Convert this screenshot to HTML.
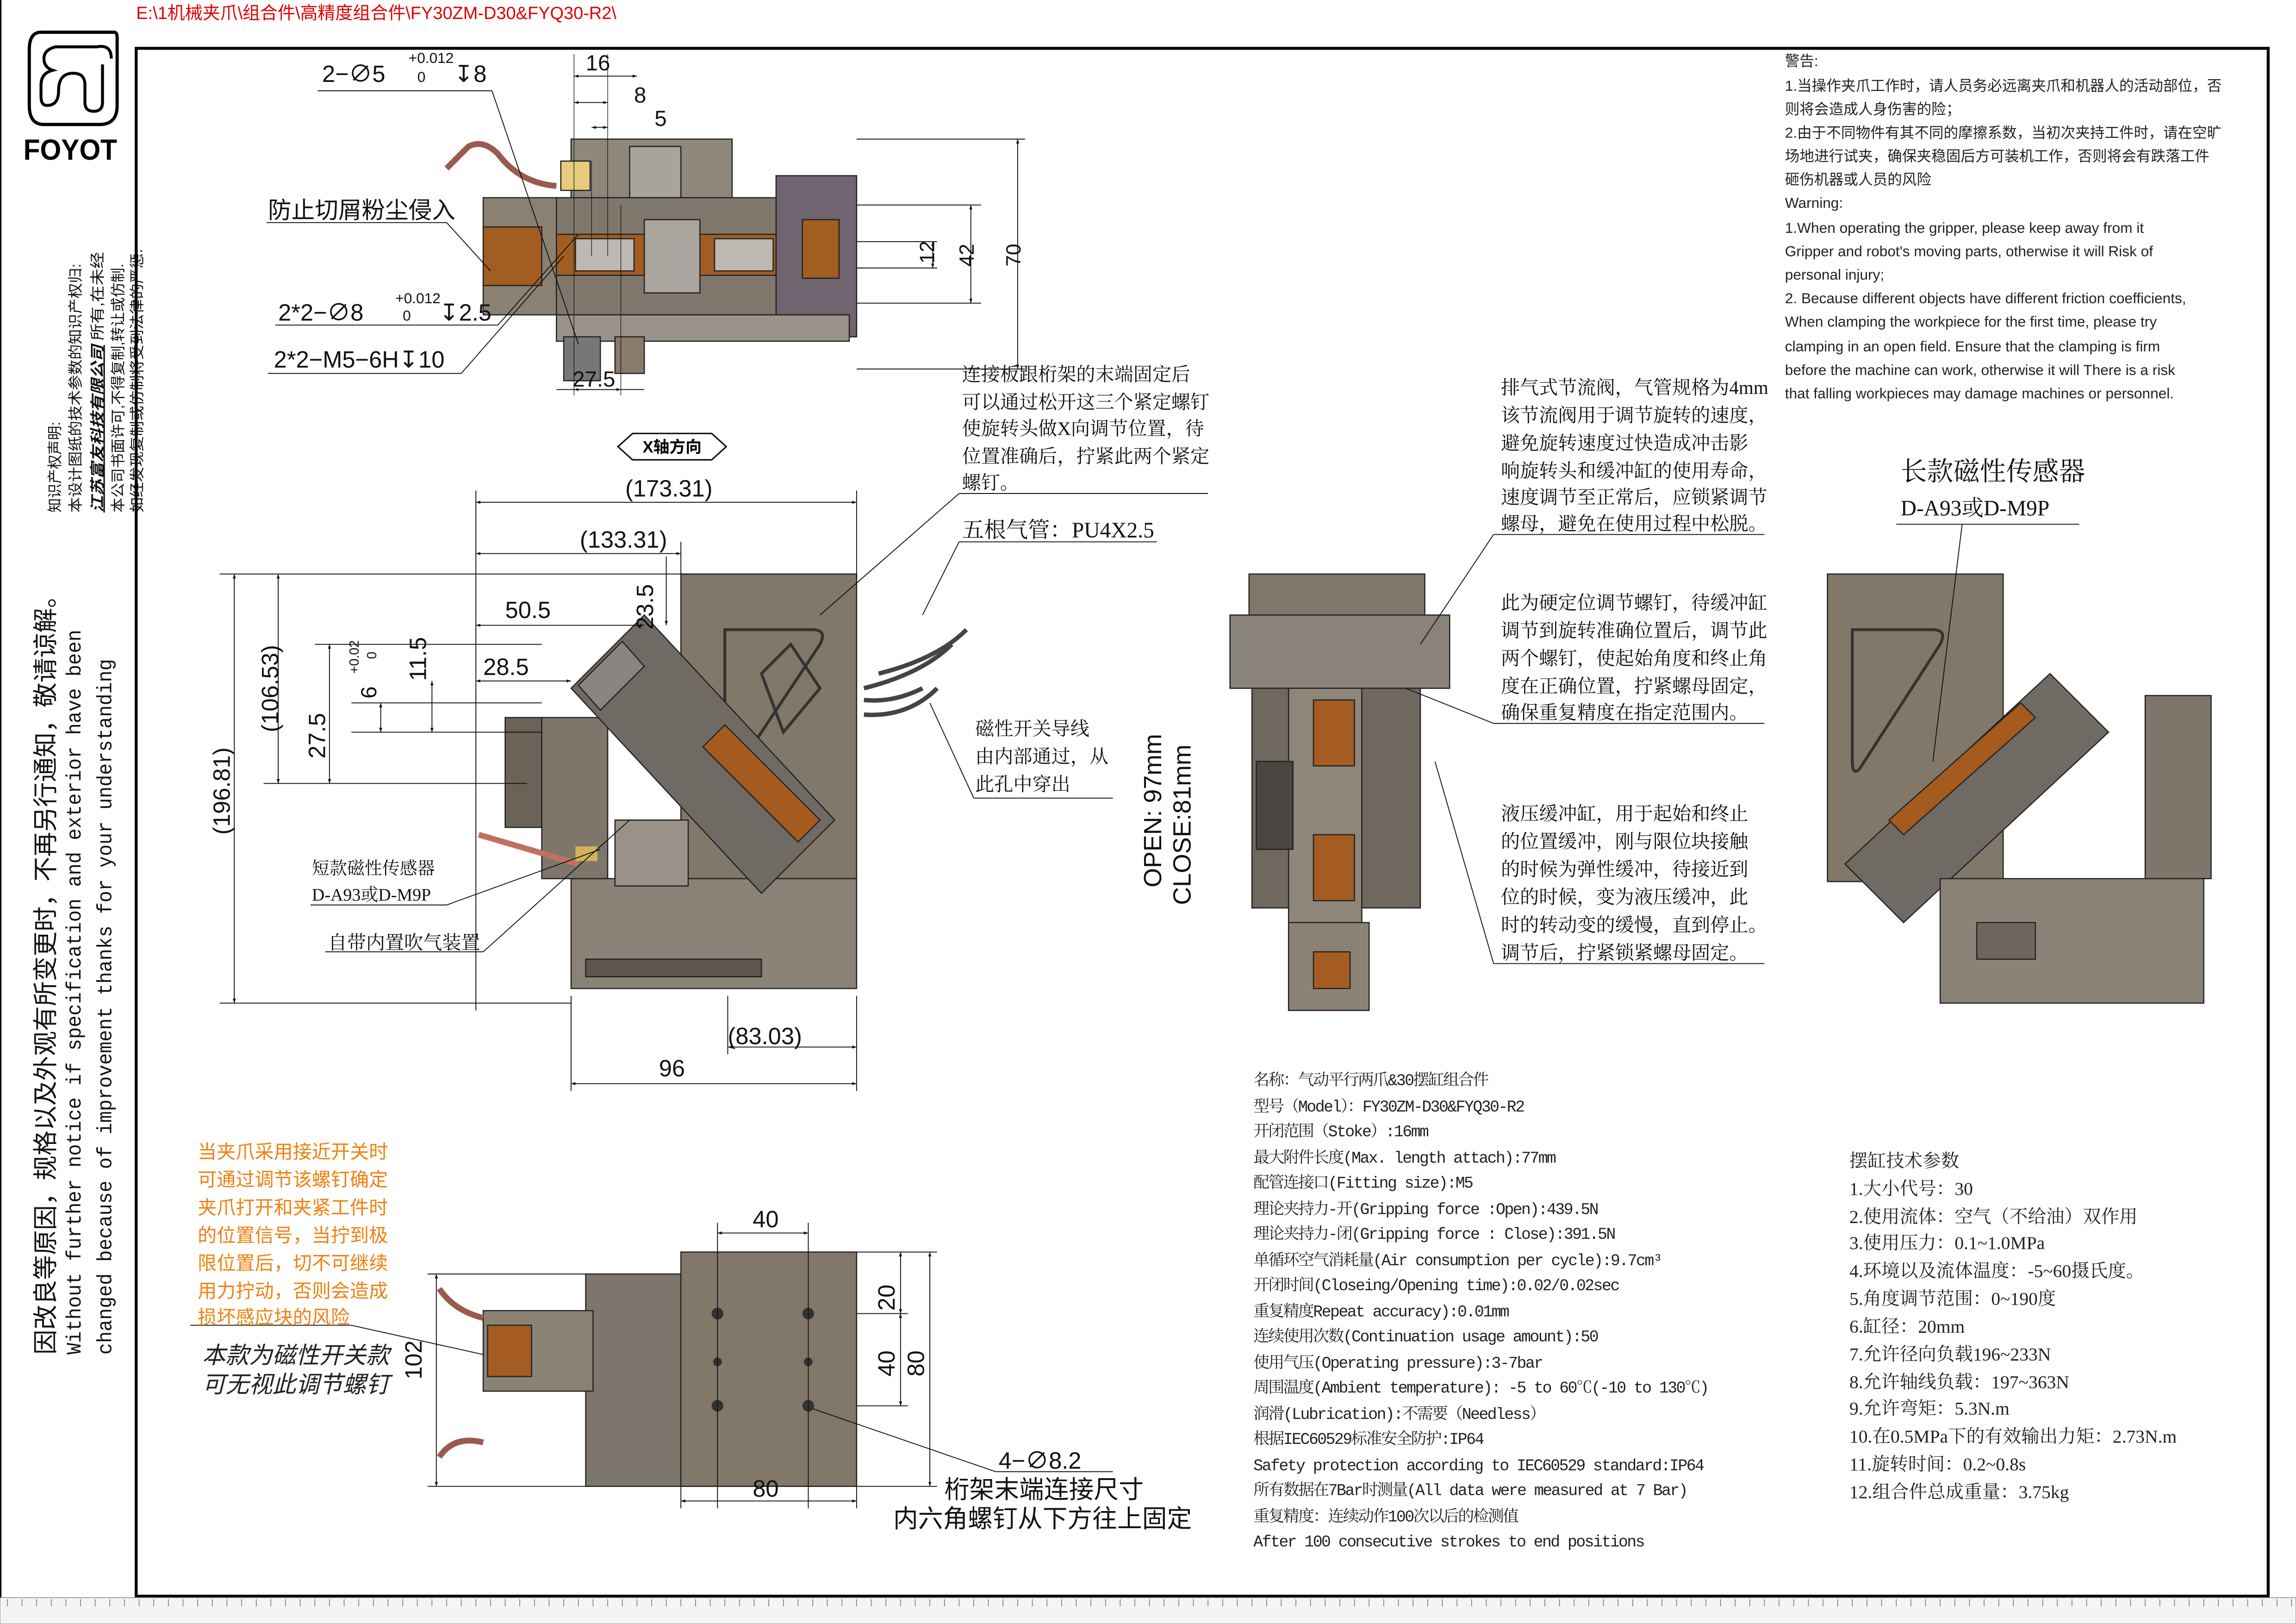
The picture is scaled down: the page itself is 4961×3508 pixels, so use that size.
<!DOCTYPE html>
<html><head><meta charset="utf-8">
<style>
html,body{margin:0;padding:0;background:#fff;}
svg{display:block;}
.s{font-family:"Liberation Sans","Noto Sans CJK SC",sans-serif;}
.r{font-family:"Liberation Serif","Noto Serif CJK SC",serif;}
.m{font-family:"Liberation Mono","Noto Serif CJK SC",monospace;}
</style></head><body>
<svg width="4961" height="3508" viewBox="0 0 1568 1109" preserveAspectRatio="none" xmlns="http://www.w3.org/2000/svg">
<defs>
<marker id="a" viewBox="0 0 10 10" refX="10" refY="5" markerWidth="7" markerHeight="5" orient="auto-start-reverse"><path d="M0,1.5 L10,5 L0,8.5z" fill="#111"/></marker>
</defs>
<rect width="1568" height="1109" fill="#fff"/>
<text x="93" y="13" class="s" font-size="12" fill="#e00000">E:\1机械夹爪\组合件\高精度组合件\FY30ZM-D30&amp;FYQ30-R2\</text>
<rect x="93" y="33" width="1456" height="1057" fill="none" stroke="#000" stroke-width="2"/>
<line x1="0.5" y1="0" x2="0.5" y2="1109" stroke="#000"/>
<rect x="0" y="1091" width="1568" height="18" fill="#f4f4f4" stroke="#888" stroke-width="0.5"/>
<path d="M5,1092v5M15,1092v5M25,1092v5M35,1092v5M45,1092v5M55,1092v5M65,1092v5M75,1092v5M85,1092v5M95,1092v5M105,1092v5M115,1092v5M125,1092v5M135,1092v5M145,1092v5M155,1092v5M165,1092v5M175,1092v5M185,1092v5M195,1092v5M205,1092v5M215,1092v5M225,1092v5M235,1092v5M245,1092v5M255,1092v5M265,1092v5M275,1092v5M285,1092v5M295,1092v5M305,1092v5M315,1092v5M325,1092v5M335,1092v5M345,1092v5M355,1092v5M365,1092v5M375,1092v5M385,1092v5M395,1092v5M405,1092v5M415,1092v5M425,1092v5M435,1092v5M445,1092v5M455,1092v5M465,1092v5M475,1092v5M485,1092v5M495,1092v5M505,1092v5M515,1092v5M525,1092v5M535,1092v5M545,1092v5M555,1092v5M565,1092v5M575,1092v5M585,1092v5M595,1092v5M605,1092v5M615,1092v5M625,1092v5M635,1092v5M645,1092v5M655,1092v5M665,1092v5M675,1092v5M685,1092v5M695,1092v5M705,1092v5M715,1092v5M725,1092v5M735,1092v5M745,1092v5M755,1092v5M765,1092v5M775,1092v5M785,1092v5M795,1092v5M805,1092v5M815,1092v5M825,1092v5M835,1092v5M845,1092v5M855,1092v5M865,1092v5M875,1092v5M885,1092v5M895,1092v5M905,1092v5M915,1092v5M925,1092v5M935,1092v5M945,1092v5M955,1092v5M965,1092v5M975,1092v5M985,1092v5M995,1092v5M1005,1092v5M1015,1092v5M1025,1092v5M1035,1092v5M1045,1092v5M1055,1092v5M1065,1092v5M1075,1092v5M1085,1092v5M1095,1092v5M1105,1092v5M1115,1092v5M1125,1092v5M1135,1092v5M1145,1092v5M1155,1092v5M1165,1092v5M1175,1092v5M1185,1092v5M1195,1092v5M1205,1092v5M1215,1092v5M1225,1092v5M1235,1092v5M1245,1092v5M1255,1092v5M1265,1092v5M1275,1092v5M1285,1092v5M1295,1092v5M1305,1092v5M1315,1092v5M1325,1092v5M1335,1092v5M1345,1092v5M1355,1092v5M1365,1092v5M1375,1092v5M1385,1092v5M1395,1092v5M1405,1092v5M1415,1092v5M1425,1092v5M1435,1092v5M1445,1092v5M1455,1092v5M1465,1092v5M1475,1092v5M1485,1092v5M1495,1092v5M1505,1092v5M1515,1092v5M1525,1092v5M1535,1092v5M1545,1092v5M1555,1092v5M1565,1092v5" stroke="#777" stroke-width="0.5"/>

<!-- logo -->
<path d="M28,22 H78 Q80,22 80,26 V72 Q80,85 68,85 H30 Q20,85 20,72 V34 Q20,22 28,22 Z" fill="none" stroke="#000" stroke-width="2.2"/>
<path d="M70,44 V70 Q70,76 64,76 Q58,76 58,70 V58 Q58,50 50,50 Q40,50 40,62 Q40,72 32,72 Q28,72 28,66 V58 Q28,50 36,48 Q30,46 30,40 Q30,34 38,32 H66 Q76,30 76,40" fill="none" stroke="#000" stroke-width="2"/>
<text x="48" y="109" class="s" font-size="20" font-weight="bold" text-anchor="middle" textLength="64" lengthAdjust="spacingAndGlyphs">FOYOT</text>

<!-- left vertical texts -->
<g class="s" fill="#111">
<text transform="translate(41,350) rotate(-90)" font-size="10" textLength="62" lengthAdjust="spacingAndGlyphs">知识产权声明:</text>
<text transform="translate(55,350) rotate(-90)" font-size="10" textLength="170" lengthAdjust="spacingAndGlyphs">本设计图纸的技术参数的知识产权归:</text>
<text transform="translate(70,350) rotate(-90)" font-size="10" textLength="178" lengthAdjust="spacingAndGlyphs"><tspan font-weight="bold" font-style="italic" text-decoration="underline">江苏富友科技有限公司</tspan> 所有,在未经</text>
<text transform="translate(84,350) rotate(-90)" font-size="10" textLength="170" lengthAdjust="spacingAndGlyphs">本公司书面许可,不得复制,转让或仿制.</text>
<text transform="translate(97,350) rotate(-90)" font-size="10" textLength="180" lengthAdjust="spacingAndGlyphs">如经发现复制或仿制将受到法律的严惩.</text>
<text transform="translate(37,925) rotate(-90)" font-size="17">因改良等原因，规格以及外观有所变更时，不再另行通知，敬请谅解。</text>
<text transform="translate(55,925) rotate(-90)" font-size="14" class="m" textLength="495" lengthAdjust="spacingAndGlyphs">Without further  notice if specification and exterior have been</text>
<text transform="translate(76,925) rotate(-90)" font-size="14" class="m" textLength="475" lengthAdjust="spacingAndGlyphs">changed because of improvement thanks for your understanding</text>
</g>

<!-- ================= TOP VIEW ================= -->
<g stroke="#222" stroke-width="0.8">
<rect x="390" y="95" width="110" height="45" fill="#8f877c"/>
<rect x="430" y="100" width="35" height="35" fill="#a7a49e"/>
<rect x="383" y="110" width="20" height="20" fill="#e6cc7c"/>
<rect x="330" y="135" width="50" height="80" fill="#8a8173"/>
<rect x="330" y="155" width="40" height="40" fill="#a25d22"/>
<rect x="380" y="135" width="160" height="80" fill="#7f776b"/>
<rect x="380" y="160" width="160" height="28" fill="#a25d22"/>
<rect x="393" y="163" width="40" height="22" fill="#bdb9b2"/>
<rect x="440" y="150" width="38" height="50" fill="#aaa59f"/>
<rect x="488" y="163" width="40" height="22" fill="#bdb9b2"/>
<rect x="530" y="120" width="55" height="110" fill="#6f6470"/>
<rect x="548" y="150" width="25" height="40" fill="#a25d22"/>
<rect x="380" y="215" width="200" height="18" fill="#9a9389"/>
<rect x="385" y="230" width="25" height="30" fill="#777"/>
<rect x="420" y="230" width="20" height="25" fill="#8a7a6a"/>
</g>
<path d="M380,127 Q355,125 340,105 Q330,95 320,100 L305,115" fill="none" stroke="#9a5a50" stroke-width="4"/>
<g stroke="#111" stroke-width="0.6" fill="none">
<line x1="217" y1="62" x2="336" y2="62"/><line x1="336" y1="62" x2="395" y2="235"/>
<line x1="182" y1="152" x2="305" y2="152"/><line x1="305" y1="152" x2="335" y2="185"/>
<line x1="188" y1="222" x2="340" y2="222"/><line x1="340" y1="222" x2="395" y2="160"/>
<line x1="183" y1="255" x2="315" y2="255"/><line x1="315" y1="255" x2="385" y2="175"/>
<line x1="392" y1="37" x2="392" y2="270" stroke-width="0.4"/>
<line x1="415" y1="37" x2="415" y2="175" stroke-width="0.4"/>
<line x1="404" y1="110" x2="404" y2="175" stroke-width="0.4"/>
<line x1="424" y1="140" x2="424" y2="270" stroke-width="0.4"/>
<line x1="392" y1="52" x2="435" y2="52" marker-start="url(#a)" marker-end="url(#a)"/>
<line x1="392" y1="70" x2="415" y2="70" marker-start="url(#a)" marker-end="url(#a)"/>
<line x1="404" y1="87" x2="415" y2="87" marker-start="url(#a)" marker-end="url(#a)"/>
<line x1="380" y1="266" x2="440" y2="266"/>
<line x1="392" y1="266" x2="424" y2="266" marker-start="url(#a)" marker-end="url(#a)"/>
<line x1="585" y1="95" x2="700" y2="95"/><line x1="585" y1="252" x2="700" y2="252"/>
<line x1="695" y1="95" x2="695" y2="252" marker-start="url(#a)" marker-end="url(#a)"/>
<line x1="585" y1="140" x2="670" y2="140"/><line x1="585" y1="207" x2="670" y2="207"/>
<line x1="663" y1="140" x2="663" y2="207" marker-start="url(#a)" marker-end="url(#a)"/>
<line x1="585" y1="165" x2="640" y2="165"/><line x1="585" y1="183" x2="640" y2="183"/>
<line x1="637" y1="165" x2="637" y2="183" marker-start="url(#a)" marker-end="url(#a)"/>
</g>
<g class="s" fill="#111">
<text x="220" y="56" font-size="16">2−∅5</text>
<text x="279" y="43" font-size="10">+0.012</text><text x="285" y="56" font-size="10">0</text>
<text x="310" y="56" font-size="16">↧8</text>
<text x="400" y="48" font-size="15">16</text>
<text x="433" y="70" font-size="15">8</text>
<text x="447" y="86" font-size="15">5</text>
<text x="183" y="149" font-size="16">防止切屑粉尘侵入</text>
<text x="190" y="219" font-size="16">2*2−∅8</text>
<text x="270" y="207" font-size="10">+0.012</text><text x="275" y="219" font-size="10">0</text>
<text x="300" y="219" font-size="16">↧2.5</text>
<text x="187" y="251" font-size="16">2*2−M5−6H↧10</text>
<text x="391" y="264" font-size="15">27.5</text>
<text transform="translate(638,180) rotate(-90)" font-size="14">12</text>
<text transform="translate(665,182) rotate(-90)" font-size="14">42</text>
<text transform="translate(697,182) rotate(-90)" font-size="14">70</text>
</g>

<path d="M422,305 L432,296 H486 L496,305 L486,314 H432 Z" fill="#fff" stroke="#111" stroke-width="1"/>
<text x="459" y="309" class="s" font-size="11" font-weight="bold" text-anchor="middle">X轴方向</text>

<!-- ================= MAIN LEFT VIEW ================= -->
<g stroke="#222" stroke-width="0.8">
<rect x="465" y="392" width="120" height="210" fill="#817869"/>
<path d="M495,430 L555,430 Q565,430 560,440 L500,530 Q495,535 495,525 Z" fill="none" stroke="#333" stroke-width="2"/>
<path d="M520,460 L540,440 L560,470 L535,500 Z" fill="none" stroke="#333" stroke-width="2"/>
<rect x="390" y="600" width="195" height="75" fill="#8a8276"/>
<rect x="400" y="655" width="120" height="12" fill="#5e564c"/>
<rect x="370" y="490" width="45" height="110" fill="#7e766a"/>
<rect x="345" y="490" width="25" height="75" fill="#6b6258"/>
<path d="M390,470 L440,420 L570,560 L520,610 Z" fill="#6f6a63"/>
<path d="M395,468 L425,438 L440,455 L410,485 Z" fill="#8a8580"/>
<path d="M480,510 L495,495 L560,560 L545,575 Z" fill="#a55a1e"/>
<rect x="420" y="560" width="50" height="45" fill="#9a9289"/>
</g>
<path d="M630,470 Q610,480 590,478 M640,470 Q620,490 590,488 M650,440 Q630,460 590,470 M660,430 Q640,450 600,460" fill="none" stroke="#444" stroke-width="3"/>
<path d="M327,570 L395,590" stroke="#c07060" stroke-width="4"/>
<rect x="393" y="578" width="15" height="10" fill="#d4b25a"/>
<g stroke="#111" stroke-width="0.6" fill="none">
<line x1="325" y1="335" x2="325" y2="690"/><line x1="585" y1="335" x2="585" y2="395"/>
<line x1="325" y1="343" x2="585" y2="343" marker-start="url(#a)" marker-end="url(#a)"/>
<line x1="465" y1="370" x2="465" y2="392"/>
<line x1="325" y1="378" x2="465" y2="378" marker-start="url(#a)" marker-end="url(#a)"/>
<line x1="325" y1="427" x2="440" y2="427" marker-start="url(#a)" marker-end="url(#a)"/>
<line x1="325" y1="465" x2="390" y2="465" marker-start="url(#a)" marker-end="url(#a)"/>
<line x1="455" y1="380" x2="455" y2="427" marker-end="url(#a)"/>
<line x1="150" y1="392" x2="470" y2="392"/>
<line x1="150" y1="685" x2="390" y2="685"/>
<line x1="160" y1="392" x2="160" y2="685" marker-start="url(#a)" marker-end="url(#a)"/>
<line x1="190" y1="392" x2="190" y2="535" marker-start="url(#a)" marker-end="url(#a)"/>
<line x1="180" y1="535" x2="360" y2="535"/>
<line x1="225" y1="440" x2="225" y2="535" marker-start="url(#a)" marker-end="url(#a)"/>
<line x1="215" y1="440" x2="370" y2="440"/>
<line x1="240" y1="500" x2="370" y2="500"/><line x1="240" y1="480" x2="370" y2="480"/>
<line x1="260" y1="480" x2="260" y2="500" marker-start="url(#a)" marker-end="url(#a)"/>
<line x1="295" y1="465" x2="295" y2="500" marker-start="url(#a)" marker-end="url(#a)"/>
<line x1="390" y1="680" x2="390" y2="745"/><line x1="585" y1="680" x2="585" y2="745"/>
<line x1="497" y1="680" x2="497" y2="720"/>
<line x1="497" y1="715" x2="585" y2="715" marker-start="url(#a)" marker-end="url(#a)"/>
<line x1="390" y1="740" x2="585" y2="740" marker-start="url(#a)" marker-end="url(#a)"/>
<line x1="655" y1="337" x2="825" y2="337"/><line x1="655" y1="337" x2="560" y2="420"/>
<line x1="655" y1="370" x2="790" y2="370"/><line x1="655" y1="370" x2="630" y2="420"/>
<line x1="665" y1="545" x2="760" y2="545"/><line x1="665" y1="545" x2="635" y2="480"/>
<line x1="212" y1="618" x2="305" y2="618"/><line x1="305" y1="618" x2="410" y2="580"/>
<line x1="222" y1="650" x2="330" y2="650"/><line x1="330" y1="650" x2="430" y2="560"/>
</g>
<g class="s" fill="#111">
<text x="427" y="339" font-size="16">(173.31)</text>
<text x="396" y="374" font-size="16">(133.31)</text>
<text x="345" y="422" font-size="16">50.5</text>
<text x="330" y="461" font-size="16">28.5</text>
<text transform="translate(446,430) rotate(-90)" font-size="16">23.5</text>
<text transform="translate(157,570) rotate(-90)" font-size="16">(196.81)</text>
<text transform="translate(190,500) rotate(-90)" font-size="16">(106.53)</text>
<text transform="translate(222,518) rotate(-90)" font-size="16">27.5</text>
<text transform="translate(257,477) rotate(-90)" font-size="15">6</text>
<text transform="translate(245,460) rotate(-90)" font-size="9">+0.02</text>
<text transform="translate(257,450) rotate(-90)" font-size="9">0</text>
<text transform="translate(291,465) rotate(-90)" font-size="16">11.5</text>
<text x="497" y="713" font-size="16">(83.03)</text>
<text x="450" y="735" font-size="16">96</text>
</g>
<g class="r" fill="#111" font-size="13">
<text x="657" y="260">连接板跟桁架的末端固定后</text>
<text x="657" y="279">可以通过松开这三个紧定螺钉</text>
<text x="657" y="297">使旋转头做X向调节位置，待</text>
<text x="657" y="316">位置准确后，拧紧此两个紧定</text>
<text x="657" y="334">螺钉。</text>
<text x="657" y="367" font-size="15">五根气管：PU4X2.5</text>
<text x="666" y="502">磁性开关导线</text>
<text x="666" y="521">由内部通过，从</text>
<text x="666" y="540">此孔中穿出</text>
<text x="213" y="597" font-size="12">短款磁性传感器</text>
<text x="213" y="615" font-size="12">D-A93或D-M9P</text>
<text x="224" y="648">自带内置吹气装置</text>
</g>

<!-- ================= MIDDLE VIEW ================= -->
<g stroke="#222" stroke-width="0.8">
<rect x="853" y="392" width="120" height="45" fill="#7f776a"/>
<rect x="840" y="420" width="150" height="50" fill="#8a8379"/>
<rect x="855" y="470" width="115" height="150" fill="#6e685f"/>
<rect x="880" y="470" width="50" height="165" fill="#8e867a"/>
<rect x="897" y="478" width="28" height="45" fill="#a45c22"/>
<rect x="897" y="570" width="28" height="45" fill="#a45c22"/>
<rect x="880" y="630" width="55" height="60" fill="#8b8275"/>
<rect x="897" y="650" width="25" height="25" fill="#a45c22"/>
<rect x="858" y="520" width="25" height="60" fill="#4a4540"/>
</g>
<g stroke="#111" stroke-width="0.6" fill="none">
<line x1="1020" y1="365" x2="1205" y2="365"/><line x1="1020" y1="365" x2="970" y2="440"/>
<line x1="1020" y1="494" x2="1205" y2="494"/><line x1="1020" y1="494" x2="960" y2="470"/>
<line x1="1020" y1="658" x2="1205" y2="658"/><line x1="1020" y1="658" x2="980" y2="520"/>
</g>
<g class="s" fill="#111">
<text transform="translate(793,606) rotate(-90)" font-size="17">OPEN: 97mm</text>
<text transform="translate(813,618) rotate(-90)" font-size="17">CLOSE:81mm</text>
</g>
<g class="r" fill="#111" font-size="13">
<text x="1025" y="269">排气式节流阀，气管规格为4mm</text>
<text x="1025" y="288">该节流阀用于调节旋转的速度，</text>
<text x="1025" y="307">避免旋转速度过快造成冲击影</text>
<text x="1025" y="326">响旋转头和缓冲缸的使用寿命，</text>
<text x="1025" y="344">速度调节至正常后，应锁紧调节</text>
<text x="1025" y="362">螺母，避免在使用过程中松脱。</text>
<text x="1025" y="416">此为硬定位调节螺钉，待缓冲缸</text>
<text x="1025" y="435">调节到旋转准确位置后，调节此</text>
<text x="1025" y="454">两个螺钉，使起始角度和终止角</text>
<text x="1025" y="473">度在正确位置，拧紧螺母固定，</text>
<text x="1025" y="491">确保重复精度在指定范围内。</text>
<text x="1025" y="560">液压缓冲缸，用于起始和终止</text>
<text x="1025" y="579">的位置缓冲，刚与限位块接触</text>
<text x="1025" y="598">的时候为弹性缓冲，待接近到</text>
<text x="1025" y="617">位的时候，变为液压缓冲，此</text>
<text x="1025" y="636">时的转动变的缓慢，直到停止。</text>
<text x="1025" y="655">调节后，拧紧锁紧螺母固定。</text>
</g>

<!-- ================= RIGHT VIEW ================= -->
<g stroke="#222" stroke-width="0.8">
<rect x="1248" y="392" width="120" height="210" fill="#817869"/>
<path d="M1265,430 L1320,430 Q1330,430 1325,440 L1270,525 Q1265,530 1265,520 Z" fill="none" stroke="#333" stroke-width="2"/>
<path d="M1260,590 L1400,460 L1440,500 L1300,630 Z" fill="#6f6a63"/>
<path d="M1290,560 L1380,480 L1390,490 L1300,570 Z" fill="#a55a1e"/>
<rect x="1465" y="475" width="45" height="125" fill="#7e766a"/>
<rect x="1325" y="600" width="180" height="85" fill="#8a8276"/>
<rect x="1350" y="630" width="40" height="25" fill="#6e665c"/>
</g>
<g class="r" fill="#111">
<text x="1298" y="328" font-size="18">长款磁性传感器</text>
<text x="1298" y="352" font-size="15">D-A93或D-M9P</text>
</g>
<line x1="1295" y1="358" x2="1420" y2="358" stroke="#111" stroke-width="0.6"/>
<line x1="1340" y1="358" x2="1320" y2="520" stroke="#111" stroke-width="0.6"/>

<!-- warning -->
<g class="s" fill="#222" font-size="10">
<text x="1219" y="45">警告:</text>
<text x="1219" y="62">1.当操作夹爪工作时，请人员务必远离夹爪和机器人的活动部位，否</text>
<text x="1219" y="78">则将会造成人身伤害的险；</text>
<text x="1219" y="94">2.由于不同物件有其不同的摩擦系数，当初次夹持工件时，请在空旷</text>
<text x="1219" y="110">场地进行试夹，确保夹稳固后方可装机工作，否则将会有跌落工件</text>
<text x="1219" y="126">砸伤机器或人员的风险</text>
<text x="1219" y="142">Warning:</text>
<text x="1219" y="159">1.When operating the gripper, please keep away from it</text>
<text x="1219" y="175">Gripper and robot's moving parts, otherwise it will Risk of</text>
<text x="1219" y="191">personal injury;</text>
<text x="1219" y="207">2. Because different objects have different friction coefficients,</text>
<text x="1219" y="223">When clamping the workpiece for the first time, please try</text>
<text x="1219" y="240">clamping in an open field. Ensure that the clamping is firm</text>
<text x="1219" y="256">before the machine can work, otherwise it will There is a risk</text>
<text x="1219" y="272">that falling workpieces may damage machines or personnel.</text>
</g>

<!-- ================= BOTTOM VIEW ================= -->
<g stroke="#222" stroke-width="0.8">
<rect x="400" y="870" width="70" height="145" fill="#7d766c"/>
<rect x="330" y="895" width="75" height="55" fill="#8a8274"/>
<rect x="333" y="905" width="30" height="35" fill="#a45c22"/>
<rect x="465" y="855" width="120" height="160" fill="#817869"/>
</g>
<g fill="#333">
<circle cx="490" cy="897" r="4"/><circle cx="552" cy="897" r="4"/>
<circle cx="490" cy="960" r="4"/><circle cx="552" cy="960" r="4"/>
<circle cx="490" cy="930" r="3"/><circle cx="552" cy="930" r="3"/>
</g>
<path d="M330,900 Q310,895 300,880 M330,985 Q310,980 300,995" fill="none" stroke="#9a5a50" stroke-width="4"/>
<g stroke="#111" stroke-width="0.6" fill="none">
<line x1="490" y1="835" x2="490" y2="1030"/><line x1="552" y1="835" x2="552" y2="1030"/>
<line x1="490" y1="842" x2="552" y2="842" marker-start="url(#a)" marker-end="url(#a)"/>
<line x1="465" y1="1025" x2="585" y2="1025" marker-start="url(#a)" marker-end="url(#a)"/>
<line x1="465" y1="1015" x2="465" y2="1030"/><line x1="585" y1="1015" x2="585" y2="1030"/>
<line x1="585" y1="855" x2="640" y2="855"/><line x1="585" y1="897" x2="620" y2="897"/>
<line x1="585" y1="960" x2="620" y2="960"/><line x1="585" y1="1015" x2="640" y2="1015"/>
<line x1="615" y1="855" x2="615" y2="897" marker-start="url(#a)" marker-end="url(#a)"/>
<line x1="615" y1="897" x2="615" y2="960" marker-start="url(#a)" marker-end="url(#a)"/>
<line x1="635" y1="855" x2="635" y2="1015" marker-start="url(#a)" marker-end="url(#a)"/>
<line x1="292" y1="870" x2="400" y2="870"/><line x1="292" y1="1015" x2="400" y2="1015"/>
<line x1="298" y1="870" x2="298" y2="1015" marker-start="url(#a)" marker-end="url(#a)"/>
<line x1="130" y1="905" x2="240" y2="905"/><line x1="240" y1="905" x2="330" y2="925"/>
<line x1="680" y1="1005" x2="760" y2="1005"/><line x1="680" y1="1005" x2="555" y2="962"/>
</g>
<g class="s" fill="#111">
<text x="514" y="838" font-size="16">40</text>
<text x="514" y="1022" font-size="16">80</text>
<text transform="translate(611,895) rotate(-90)" font-size="16">20</text>
<text transform="translate(611,940) rotate(-90)" font-size="16">40</text>
<text transform="translate(631,940) rotate(-90)" font-size="16">80</text>
<text transform="translate(288,942) rotate(-90)" font-size="16">102</text>
<text x="682" y="1003" font-size="16">4−∅8.2</text>
<text x="645" y="1023" font-size="17">桁架末端连接尺寸</text>
<text x="610" y="1043" font-size="17">内六角螺钉从下方往上固定</text>
</g>
<g class="s" fill="#f08010" font-size="13">
<text x="135" y="791">当夹爪采用接近开关时</text>
<text x="135" y="810">可通过调节该螺钉确定</text>
<text x="135" y="829">夹爪打开和夹紧工件时</text>
<text x="135" y="848">的位置信号，当拧到极</text>
<text x="135" y="867">限位置后，切不可继续</text>
<text x="135" y="886">用力拧动，否则会造成</text>
<text x="135" y="904">损坏感应块的风险</text>
</g>
<g class="s" fill="#222" font-size="16" font-style="italic">
<text x="138" y="931">本款为磁性开关款</text>
<text x="138" y="951">可无视此调节螺钉</text>
</g>

<!-- spec list -->
<g class="m" fill="#222" font-size="11" letter-spacing="-0.8">
<text x="856" y="741">名称：气动平行两爪&amp;30摆缸组合件</text>
<text x="856" y="759">型号（Model）：FY30ZM-D30&amp;FYQ30-R2</text>
<text x="856" y="776">开闭范围（Stoke）:16mm</text>
<text x="856" y="794">最大附件长度(Max. length attach):77mm</text>
<text x="856" y="811">配管连接口(Fitting size):M5</text>
<text x="856" y="829">理论夹持力-开(Gripping force :Open):439.5N</text>
<text x="856" y="846">理论夹持力-闭(Gripping force : Close):391.5N</text>
<text x="856" y="864">单循环空气消耗量(Air consumption per cycle):9.7cm³</text>
<text x="856" y="881">开闭时间(Closeing/Opening time):0.02/0.02sec</text>
<text x="856" y="899">重复精度Repeat accuracy):0.01mm</text>
<text x="856" y="916">连续使用次数(Continuation usage amount):50</text>
<text x="856" y="934">使用气压(Operating pressure):3-7bar</text>
<text x="856" y="951">周围温度(Ambient temperature): -5 to 60℃(-10 to 130℃)</text>
<text x="856" y="969">润滑(Lubrication):不需要（Needless）</text>
<text x="856" y="986">根据IEC60529标准安全防护:IP64</text>
<text x="856" y="1004">Safety protection according to IEC60529 standard:IP64</text>
<text x="856" y="1021">所有数据在7Bar时测量(All data were measured at 7 Bar)</text>
<text x="856" y="1039">重复精度：连续动作100次以后的检测值</text>
<text x="856" y="1056">After 100 consecutive strokes to end positions</text>
</g>
<g class="r" fill="#222" font-size="12.5">
<text x="1263" y="797">摆缸技术参数</text>
<text x="1263" y="816">1.大小代号：30</text>
<text x="1263" y="835">2.使用流体：空气（不给油）双作用</text>
<text x="1263" y="853">3.使用压力：0.1~1.0MPa</text>
<text x="1263" y="872">4.环境以及流体温度：-5~60摄氏度。</text>
<text x="1263" y="891">5.角度调节范围：0~190度</text>
<text x="1263" y="910">6.缸径：20mm</text>
<text x="1263" y="929">7.允许径向负载196~233N</text>
<text x="1263" y="948">8.允许轴线负载：197~363N</text>
<text x="1263" y="966">9.允许弯矩：5.3N.m</text>
<text x="1263" y="985">10.在0.5MPa下的有效输出力矩：2.73N.m</text>
<text x="1263" y="1004">11.旋转时间：0.2~0.8s</text>
<text x="1263" y="1023">12.组合件总成重量：3.75kg</text>
</g>
</svg>
</body></html>
